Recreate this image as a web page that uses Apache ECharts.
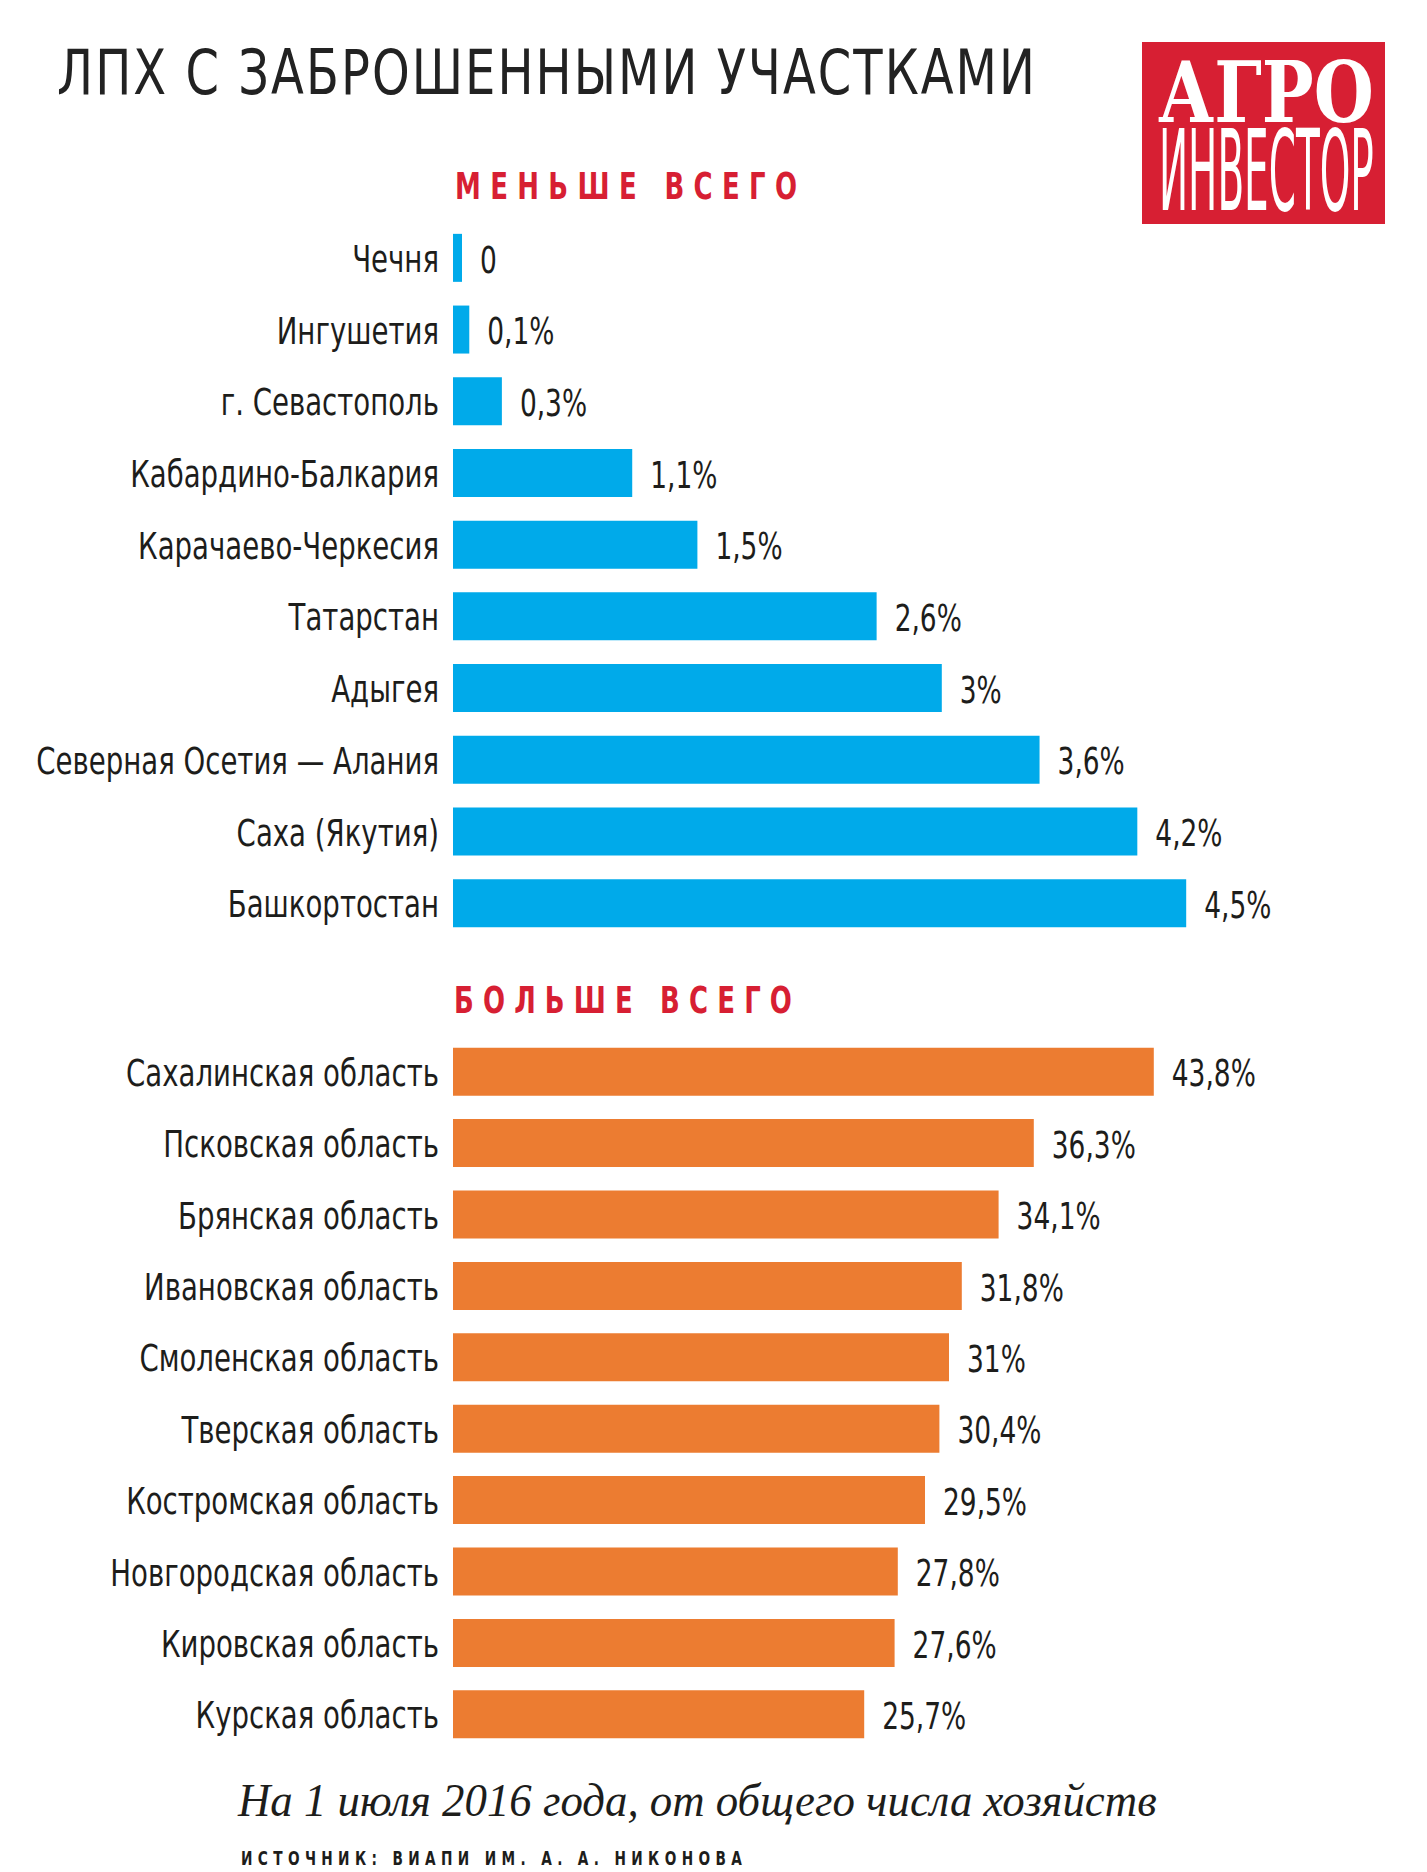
<!DOCTYPE html>
<html><head><meta charset="utf-8">
<script src="https://cdn.jsdelivr.net/npm/echarts@6/dist/echarts.min.js"></script>
<style>html,body{margin:0;padding:0;background:#fff}#c{width:1427px;height:1872px}</style>
</head><body><div id="c"></div>
<script>
const leastCategories = ['Чечня','Ингушетия','г. Севастополь','Кабардино-Балкария','Карачаево-Черкесия','Татарстан','Адыгея','Северная Осетия — Алания','Саха (Якутия)','Башкортостан'];
const leastValues = [0, 0.1, 0.3, 1.1, 1.5, 2.6, 3, 3.6, 4.2, 4.5];
const mostCategories = ['Сахалинская область','Псковская область','Брянская область','Ивановская область','Смоленская область','Тверская область','Костромская область','Новгородская область','Кировская область','Курская область'];
const mostValues = [43.8, 36.3, 34.1, 31.8, 31, 30.4, 29.5, 27.8, 27.6, 25.7];

const titleText = 'ЛПХ С ЗАБРОШЕННЫМИ УЧАСТКАМИ';
const leastHeader = 'МЕНЬШЕ ВСЕГО';
const mostHeader = 'БОЛЬШЕ ВСЕГО';
const noteText = 'На 1 июля 2016 года, от общего числа хозяйств';
const sourceText = 'ИСТОЧНИК: ВИАПИ ИМ. А. А. НИКОНОВА';
const logoTop = 'АГРО';
const logoBottom = 'ИНВЕСТОР';

const NARROW = "'Liberation Sans Narrow', 'DejaVu Sans Condensed', sans-serif";
const TEXT = '#1d1d1b';
const BLUE = '#00aaea';
const ORANGE = '#ec7c31';
const RED = '#d71f33';
const BAR_MIN = 9;

const mctx = document.createElement('canvas').getContext('2d');
function measure(text, font) { mctx.font = font; return mctx.measureText(text).width; }
function fmt(v) { return v === 0 ? '0' : String(v).replace('.', ',') + '%'; }

const CAT_FONT = "normal 37px " + NARROW;
const VAL_FONT = "normal 37px " + NARROW;
const CAT_SX = 309 / measure('Кабардино-Балкария', CAT_FONT);
const VAL_SX = 84 / measure('43,8%', VAL_FONT);

function txtStyle(text, font, fill, align) {
  return { text: text, font: font, fill: fill, align: align, textAlign: align, verticalAlign: 'middle', textVerticalAlign: 'middle' };
}
function fitText(text, font, x, y, width, fill) {
  const s = width / measure(text, font);
  return { type: 'text', x: x, y: y, scaleX: s, silent: true, style: txtStyle(text, font, fill, 'left') };
}

// letter-spaced texts (spacing applied on the svg after render)
const spaced = [
  { text: titleText, font: "normal 62px " + NARROW, x: 57, y: 73, width: 978, sx: 0.86, fill: '#222' },
  { text: leastHeader, font: "bold 37px " + NARROW, x: 455, y: 186, width: 342, sx: 0.78, fill: RED },
  { text: mostHeader, font: "bold 37px " + NARROW, x: 454, y: 1000, width: 338, sx: 0.78, fill: RED },
  { text: sourceText, font: "bold 19px " + NARROW, x: 241, y: 1858, width: 501, sx: 0.8, fill: TEXT }
];

const graphics = [];
spaced.forEach(t => graphics.push({ type: 'text', x: t.x, y: t.y, scaleX: t.sx, silent: true, style: txtStyle(t.text, t.font, t.fill, 'left') }));
graphics.push(fitText(noteText, "italic 46px 'Liberation Serif', 'DejaVu Serif', serif", 238, 1801, 919, TEXT));
graphics.push({ type: 'rect', shape: { x: 1142, y: 42, width: 243, height: 182 }, style: { fill: RED }, silent: true });
graphics.push(fitText(logoTop, "bold 85px 'DejaVu Serif', serif", 1158, 92, 216, '#fff'));
graphics.push(fitText(logoBottom, "normal 113px " + NARROW, 1159, 171, 215, '#fff'));

const chart = echarts.init(document.getElementById('c'), null, { renderer: 'svg', width: 1427, height: 1872 });

const catAxisCommon = {
  type: 'category', inverse: true,
  axisLine: { show: false }, axisTick: { show: false }, axisLabel: { show: false }
};

function labelSeries(xIdx, cats, vals) {
  return {
    type: 'custom', xAxisIndex: xIdx, yAxisIndex: xIdx, clip: false, silent: true, z: 5,
    data: vals.map((v, i) => [v, i]),
    encode: { x: 0, y: 1 },
    renderItem: function (params, api) {
      const v = api.value(0), i = api.value(1);
      const base = api.coord([0, i]);
      const end = api.coord([v, i]);
      const barEnd = Math.max(end[0], base[0] + BAR_MIN);
      return { type: 'group', children: [
        { type: 'text', x: base[0] - 14, y: base[1] + 1, scaleX: CAT_SX, style: txtStyle(cats[i], CAT_FONT, TEXT, 'right') },
        { type: 'text', x: barEnd + 18, y: base[1] + 2, scaleX: VAL_SX, style: txtStyle(fmt(v), VAL_FONT, TEXT, 'left') }
      ] };
    }
  };
}

chart.setOption({
  animation: false,
  backgroundColor: '#fff',
  grid: [
    { left: 453, width: 800, top: 222, height: 717, outerBoundsMode: 'none', containLabel: false },
    { left: 453, width: 800, top: 1036, height: 714, outerBoundsMode: 'none', containLabel: false }
  ],
  xAxis: [
    { gridIndex: 0, type: 'value', min: 0, max: 4.91, show: false },
    { gridIndex: 1, type: 'value', min: 0, max: 50, show: false }
  ],
  yAxis: [
    Object.assign({ gridIndex: 0, data: leastCategories }, catAxisCommon),
    Object.assign({ gridIndex: 1, data: mostCategories }, catAxisCommon)
  ],
  series: [
    { type: 'bar', xAxisIndex: 0, yAxisIndex: 0, data: leastValues, barWidth: 48, barMinHeight: BAR_MIN,
      itemStyle: { color: BLUE }, silent: true },
    { type: 'bar', xAxisIndex: 1, yAxisIndex: 1, data: mostValues, barWidth: 48,
      itemStyle: { color: ORANGE }, silent: true },
    labelSeries(0, leastCategories, leastValues),
    labelSeries(1, mostCategories, mostValues)
  ],
  graphic: graphics
});

function applySpacing() {
  const nodes = document.querySelectorAll('#c svg text');
  nodes.forEach(n => {
    const t = spaced.find(s => s.text === n.textContent);
    if (!t) return;
    const natural = measure(t.text, t.font);
    const ls = (t.width / t.sx - natural) / (t.text.length - 1);
    n.setAttribute('letter-spacing', ls.toFixed(2));
  });
}
chart.on('finished', applySpacing);
setTimeout(applySpacing, 50);
setTimeout(applySpacing, 300);
</script>
</body></html>
